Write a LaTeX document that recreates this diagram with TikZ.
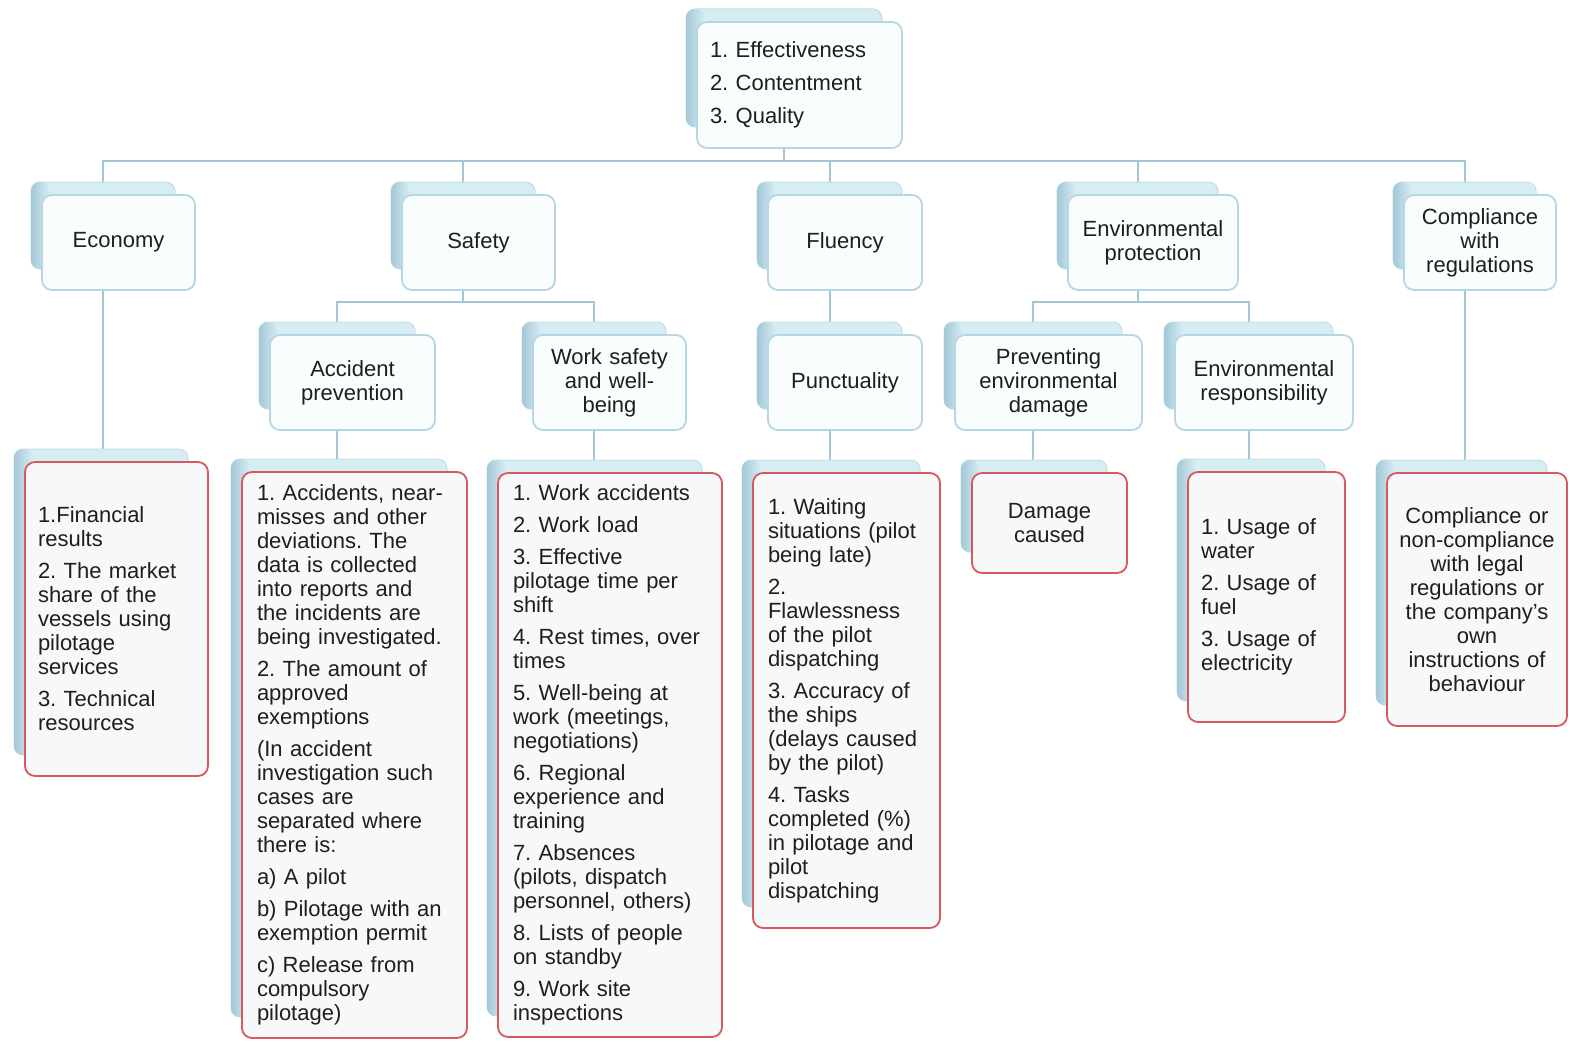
\documentclass[tikz,border=0pt]{standalone}
\usepackage{fontspec}
\setmainfont{Liberation Sans}
\frenchspacing
\pgfdeclarelayer{bg}
\pgfsetlayers{bg,main}
\definecolor{backlight}{HTML}{D6EDF4}
\definecolor{sidedark}{HTML}{A3C8D6}
\definecolor{boxline}{HTML}{B5D7E2}
\definecolor{connline}{HTML}{A2C6D2}
\definecolor{leafred}{HTML}{D9585D}
\definecolor{frontfill}{HTML}{FAFDFE}
\definecolor{leaffill}{HTML}{F7F8FA}
\definecolor{txt}{HTML}{1E1E1E}
\tikzset{
  backbox/.style={draw=boxline!80, line width=1pt, fill=backlight, rounded corners=9pt, inner sep=0pt},
  frontbox/.style={draw=boxline, line width=1.8pt, fill=frontfill, rounded corners=10pt, inner ysep=0pt, text=txt, font=\fontsize{22}{24}\selectfont},
  leafbox/.style={frontbox, draw=leafred, fill=leaffill},
  conn/.style={draw=connline, line width=2pt},
}
% #1 name, #2 L, #3 T, #4 R, #5 B, #6 style, #7 text, #8 side padding
\newcommand\stk[8]{%
  \pgfmathsetmacro\stkbw{#4-#2-9}%
  \pgfmathsetmacro\stkbh{#5-#3-8}%
  \pgfmathsetmacro\stkbx{(#2+#4)/2-15.5}%
  \pgfmathsetmacro\stkby{(#3+#5)/2-17}%
  \pgfmathsetmacro\stkfw{#4-#2}%
  \pgfmathsetmacro\stkfh{#5-#3}%
  \pgfmathsetmacro\stkfx{(#2+#4)/2}%
  \pgfmathsetmacro\stkfy{(#3+#5)/2}%
  \pgfmathsetmacro\stktw{#4-#2-2*#8}%
  \node[backbox, minimum width=\stkbw pt, minimum height=\stkbh pt] (#1-b) at (\stkbx,\stkby) {};
  \shade[left color=sidedark, right color=backlight, rounded corners=9pt] ({#2-11},{#3-13}) rectangle ({#2+8},{#5-21});
  \node[#6, minimum width=\stkfw pt, minimum height=\stkfh pt, text width=\stktw pt, inner xsep=#8 pt] (#1) at (\stkfx,\stkfy) {#7};
}
\begin{document}
\begin{tikzpicture}[x=1pt,y=-1pt]
\useasboundingbox (0,0) rectangle (1570,1041);
\coordinate (bus1) at (0,161);
\coordinate (bus2) at (0,302);

% top
\stk{top}{697}{22}{902}{148}{frontbox, align=left}{1. Effectiveness\\[9pt]2. Contentment\\[9pt]3. Quality}{13}

% level 1
\stk{eco}{42}{195}{195}{290}{frontbox, align=center}{Economy}{8}
\stk{saf}{402}{195}{555}{290}{frontbox, align=center}{Safety}{8}
\stk{flu}{768}{195}{922}{290}{frontbox, align=center}{Fluency}{8}
\stk{env}{1068}{195}{1238}{290}{frontbox, align=center}{Environmental\\protection}{8}
\stk{com}{1404}{195}{1556}{290}{frontbox, align=center}{Compliance\\with\\regulations}{8}

% level 2
\stk{acc}{270}{335}{435}{430}{frontbox, align=center}{Accident\\prevention}{8}
\stk{work}{533}{335}{686}{430}{frontbox, align=center}{Work safety\\and well-\\being}{8}
\stk{pun}{768}{335}{922}{430}{frontbox, align=center}{Punctuality}{8}
\stk{prev}{955}{335}{1142}{430}{frontbox, align=center}{Preventing\\environmental\\damage}{8}
\stk{resp}{1175}{335}{1353}{430}{frontbox, align=center}{Environmental\\responsibility}{8}

% leaves
\stk{ecoL}{25}{462}{208}{776}{leafbox, align=left}{1.Financial\\results\\[8pt]2. The market\\share of the\\vessels using\\pilotage\\services\\[8pt]3. Technical\\resources}{13}
\stk{accL}{242}{472}{467}{1038}{leafbox, align=left}{1. Accidents, near-\\misses and other\\deviations. The\\data is collected\\into reports and\\the incidents are\\being investigated.\\[8pt]2. The amount of\\approved\\exemptions\\[8pt](In accident\\investigation such\\cases are\\separated where\\there is:\\[8pt]a) A pilot\\[8pt]b) Pilotage with an\\exemption permit\\[8pt]c) Release from\\compulsory\\pilotage)}{15}
\stk{workL}{498}{473}{722}{1037}{leafbox, align=left}{1. Work accidents\\[8pt]2. Work load\\[8pt]3. Effective\\pilotage time per\\shift\\[8pt]4. Rest times, over\\times\\[8pt]5. Well-being at\\work (meetings,\\negotiations)\\[8pt]6. Regional\\experience and\\training\\[8pt]7. Absences\\(pilots, dispatch\\personnel, others)\\[8pt]8. Lists of people\\on standby\\[8pt]9. Work site\\inspections}{15}
\stk{punL}{753}{473}{940}{928}{leafbox, align=left}{1. Waiting\\situations (pilot\\being late)\\[8pt]2.\\Flawlessness\\of the pilot\\dispatching\\[8pt]3. Accuracy of\\the ships\\(delays caused\\by the pilot)\\[8pt]4. Tasks\\completed (\%)\\in pilotage and\\pilot\\dispatching}{15}
\stk{dmg}{972}{473}{1127}{573}{leafbox, align=center}{Damage\\caused}{8}
\stk{respL}{1188}{472}{1345}{722}{leafbox, align=left}{1. Usage of\\water\\[8pt]2. Usage of\\fuel\\[8pt]3. Usage of\\electricity}{13}
\stk{comL}{1387}{473}{1567}{726}{leafbox, align=center}{Compliance or\\non-compliance\\with legal\\regulations or\\the company's\\own\\instructions of\\behaviour}{5}

\begin{pgfonlayer}{bg}
\fill[white] (0,0) rectangle (1570,1041);
\draw[conn] (top-b.south) -- (top-b.south |- bus1);
\foreach \c in {eco,saf,flu,env,com}
  \draw[conn] (top-b.south |- bus1) -| (\c-b.north);
\draw[conn] (eco-b.south) -- (eco-b.south |- ecoL-b.north);
\draw[conn] (saf-b.south) -- (saf-b.south |- bus2);
\draw[conn] (saf-b.south |- bus2) -| (acc-b.north);
\draw[conn] (saf-b.south |- bus2) -| (work-b.north);
\draw[conn] (flu-b.south) -- (flu-b.south |- pun-b.north);
\draw[conn] (env-b.south) -- (env-b.south |- bus2);
\draw[conn] (env-b.south |- bus2) -| (prev-b.north);
\draw[conn] (env-b.south |- bus2) -| (resp-b.north);
\draw[conn] (com-b.south) -- (com-b.south |- comL-b.north);
\draw[conn] (acc-b.south) -- (acc-b.south |- accL-b.north);
\draw[conn] (work-b.south) -- (work-b.south |- workL-b.north);
\draw[conn] (pun-b.south) -- (pun-b.south |- punL-b.north);
\draw[conn] (prev-b.south) -- (prev-b.south |- dmg-b.north);
\draw[conn] (resp-b.south) -- (resp-b.south |- respL-b.north);
\end{pgfonlayer}
\end{tikzpicture}
\end{document}
